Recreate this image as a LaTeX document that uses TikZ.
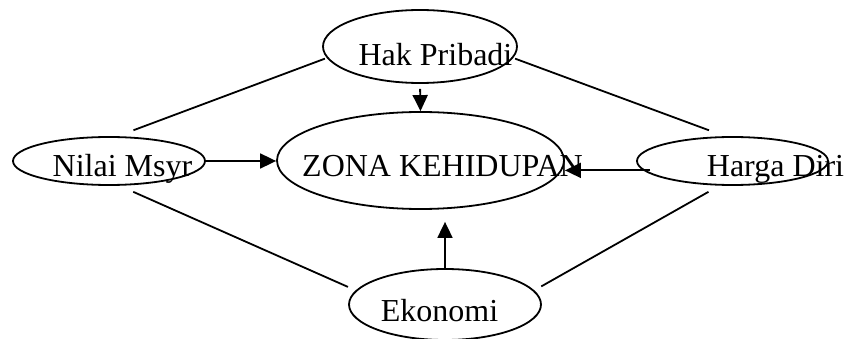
\documentclass[tikz,border=0pt]{standalone}
\usepackage{fontspec}
\setmainfont{Liberation Serif}
\usetikzlibrary{shapes, arrows.meta, calc}

\begin{document}
\begin{tikzpicture}[x=1pt, y=-1pt,
  ovalbox/.style={draw, ellipse, line width=1.8pt, inner sep=0pt},
  ovaltext/.style={font=\fontsize{32}{38}\selectfont},
  link/.style={line width=1.8pt},
  push/.style={line width=1.8pt, -{Triangle[length=16pt, width=15pt]}}
]
  \useasboundingbox (0,0) rectangle (844,339);

  % The centre and the four factors round it
  \node[ovalbox, minimum width=287pt, minimum height=97pt, label={[ovaltext, xshift=22pt, yshift=-6pt]center:ZONA KEHIDUPAN}] (zona) at (420.5,160.5) {};
  \node[ovalbox, minimum width=194pt, minimum height=73pt, label={[ovaltext, xshift=15.5pt, yshift=-8pt]center:Hak Pribadi}] (hak) at (420,46.5) {};
  \node[ovalbox, minimum width=192pt, minimum height=48pt, label={[ovaltext, xshift=13.5pt, yshift=-7.5pt]center:Nilai Msyr}] (nilai) at (109,161) {};
  \node[ovalbox, minimum width=191pt, minimum height=48pt, label={[ovaltext, xshift=43pt, yshift=-8.5pt]center:Harga Diri}] (harga) at (732.5,161) {};
  \node[ovalbox, minimum width=192pt, minimum height=71pt, label={[ovaltext, xshift=-5.5pt, yshift=-6.5pt]center:Ekonomi}] (eko) at (445,304.5) {};

  % Outer ring
  \draw[link, shorten <=17pt, shorten >=2pt] (nilai.71) -- (hak.187);
  \draw[link, shorten <=2pt, shorten >=17pt] (hak.353) -- (harga.107);
  \draw[link, shorten <=15pt, shorten >=8.5pt] (nilai.293) -- (eko.171);
  \draw[link, shorten <=12.5pt, shorten >=8pt] (harga.242) -- (eko.9);

  % Arrows into the centre
  \draw[push, shorten <=5pt] (hak.south) -- (zona.north);
  \draw[push] (nilai.east) -- (nilai.east -| zona.west);
  \draw[push, shorten <=-7pt] (harga.186) -- (harga.186 -| zona.east);
  \draw[push, shorten >=12pt] (eko.north) -- (eko.north |- zona.south);
\end{tikzpicture}
\end{document}
